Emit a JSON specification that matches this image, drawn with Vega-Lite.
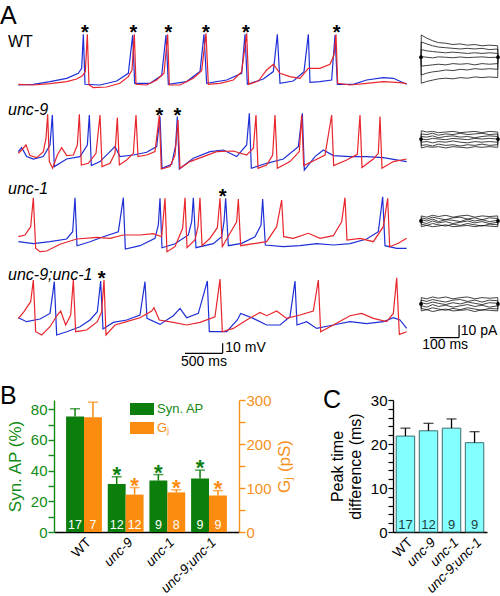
{
"$schema":"https://vega.github.io/schema/vega-lite/v6.json",
"padding":{"top":3,"left":0,"right":0,"bottom":0},
"background":"white",
"config":{"view":{"stroke":null},"font":"Liberation Sans","title":{"font":"Liberation Sans","color":"black"},"text":{"font":"Liberation Sans"},"axis":{"labelFont":"Liberation Sans","titleFont":"Liberation Sans"},"legend":{"labelFont":"Liberation Sans"}},
"datasets":{
"tr":[
{"g":"WT","c":"b","t":[55,100,150,200,235,245,250,255,300,350,385,398,404,450,485,498,505,560,600,612,620,680,725,735,742,790,820,832,840,880,912,925,930,960,995,1005,1012,1060,1100,1150,1180,1220],"v":[-0.7,0,2.7,6,11,16,50,0,-0.7,3.3,11,49.3,1,1,8.7,49.3,0,2.7,12.7,50,1,4.3,11,50,0,5.3,12.7,50,1,3.3,12.7,50,2,2.7,4.3,49.3,0,0,4.3,6.7,6,0]},
{"g":"WT","c":"r","t":[55,100,150,200,230,248,256,262,267,280,320,360,385,396,403,408,440,470,492,503,508,540,580,605,618,625,660,700,725,740,746,775,800,820,840,870,900,925,960,990,1002,1008,1013,1050,1100,1150,1200,1220],"v":[0,-0.7,0.7,2.7,5.3,8.7,12.7,50,-0.7,-3.3,-2.7,1,7.7,14.3,50,0,-0.7,4.3,11,50,-0.7,-0.7,6,13.7,51,0,1,4.3,12.7,51,0,3.3,14.3,20,11,7.7,6,16,16,20,29.3,50,1,-0.7,1,2.7,1.7,0.7]},
{"g":"unc-9","c":"b","t":[55,65,80,100,130,150,157,163,200,240,262,268,274,300,330,345,360,400,440,470,480,486,515,527,532,538,580,630,670,710,740,748,754,800,850,895,907,913,945,970,1000,1050,1100,1150,1220],"v":[6.7,10.7,1.7,-0.7,1.7,13.3,43.3,-8.3,-0.7,1.7,13.3,43.3,-7.3,-3.3,6.7,11.7,1.7,3.3,6,11.7,41.7,-10,-6,13.3,41.7,-10.7,0,6.7,8.3,1.7,13.3,45,-10,-5,-0.7,11.7,45,-11.7,1.7,8.3,2.7,1.7,1.7,0.7,-3.3]},
{"g":"unc-9","c":"r","t":[55,65,78,90,110,130,138,143,148,158,172,185,200,220,232,238,244,265,288,300,306,330,345,352,358,380,400,408,414,440,465,478,484,510,525,534,540,570,610,650,700,740,760,768,774,800,818,825,832,870,898,905,911,940,975,995,1001,1040,1072,1080,1086,1120,1135,1140,1146,1180,1220],"v":[5,8.3,13.3,2.7,0.7,6.7,20,44,-3.3,-10,3.3,10.7,2.7,3.3,13.3,44,-6.7,-5,5,43.3,-8.3,-5,5,40.7,-6.7,-1.7,5,43.3,1.7,3.3,6.7,43.3,-10.7,-8.3,3.3,38.3,-10,-3.3,1.7,6.7,7.3,3.3,10,43.3,-10,-6.7,3.3,43.3,-10,-3.3,6.7,43.3,-7.3,-2.7,3.3,43.3,-7.3,-1.7,4,43.3,-9.3,-0.7,5,41.7,-10,-3.3,-0.7]},
{"g":"unc-1","c":"b","t":[55,100,150,200,218,225,231,270,310,355,370,376,420,465,475,480,486,525,565,575,580,588,640,665,672,677,685,725,765,783,788,796,850,900,950,1000,1050,1100,1135,1148,1155,1190,1220],"v":[-1.7,-3.7,-1.7,1,8.3,42.3,-5.7,-1.7,3.3,8.3,42.3,-9,-5.7,1.7,15,41.7,-7.7,-3.7,5,18.3,42.3,-7.7,-3.7,3.3,18.3,41.7,-5.7,-3.3,3.3,15,41,-5,-6.7,-5.7,-3.7,-5,-3.7,1,8.3,43.3,-5.7,-8.3,-8.3]},
{"g":"unc-1","c":"r","t":[55,75,92,100,107,120,140,180,230,290,330,370,420,460,485,495,501,525,548,555,561,585,594,600,606,630,652,660,667,690,710,715,722,760,800,830,845,851,880,925,960,1000,1025,1035,1041,1080,1120,1150,1163,1169,1195,1220],"v":[3.3,5,13.3,42.3,-8.3,-11.7,-11,-4.3,1,2.7,1.7,5,5,6.3,3.3,41.7,-11.7,-6.7,11.7,42.3,-7.7,0,13.3,42.3,-5.7,1.7,12.3,41.7,-6.7,6.7,18.3,41,-5.7,-3.7,-1.7,13.3,40,3.3,1.7,6.7,1.7,4.3,18.3,42.3,0,1.7,-1.7,13.3,41.7,-6.7,-3.3,1.7]},
{"g":"unc-9;unc-1","c":"b","t":[55,80,120,150,163,170,200,240,270,292,302,309,340,380,420,435,441,480,520,540,560,595,622,628,680,712,722,760,800,840,870,885,891,920,950,1000,1050,1100,1150,1180,1200,1220],"v":[4,0,2.7,8.3,40,-13.3,-10,-5,1.7,10,40.7,-7.3,-0.7,1.7,6.7,40,3.3,-2.7,6,13.3,4,8.3,40.7,-10,-10,1.7,8.3,3.3,-3.3,-3.3,5,40.7,-3.3,0,-6.7,-3.3,0,-2,0,4,1.7,-6.7]},
{"g":"unc-9;unc-1","c":"r","t":[55,72,92,100,107,125,150,172,182,197,212,220,227,260,292,305,312,318,345,380,420,455,462,478,520,560,600,645,660,667,700,740,780,800,830,860,900,940,955,962,1000,1050,1085,1120,1160,1180,1190,1198,1220],"v":[3.3,10,20,41.7,-10,-13.3,-5,6.7,10.7,-3.3,6.7,41.7,-10,-8.3,0,10,41.7,-13.3,-3.3,0,4,10.7,14,1.7,-0.7,-3.3,-0.7,5,42.7,-10,-6.7,1.7,9.3,6,10.7,3.3,6.7,10.7,41.7,-10,-3.3,6,8.3,3.3,0,8.3,44,-12.7,-10]}
],
"ast":[
{"g":"WT","t":255,"v":56.7},{"g":"WT","t":400,"v":56.7},{"g":"WT","t":505,"v":56.7},{"g":"WT","t":618,"v":56.7},{"g":"WT","t":738,"v":56.7},{"g":"WT","t":1010,"v":56.7},
{"g":"unc-9","t":478,"v":47.3},{"g":"unc-9","t":532,"v":47.3},
{"g":"unc-1","t":668,"v":48.3},
{"g":"unc-9;unc-1","t":305,"v":47.3}
],
"lab":[
{"g":"WT","t":24,"v":42.6,"name":"WT"},
{"g":"unc-9","t":24,"v":48.3,"name":"unc-9"},
{"g":"unc-1","t":24,"v":51,"name":"unc-1"},
{"g":"unc-9;unc-1","t":24,"v":46.7,"name":"unc-9;unc-1"}
],
"sb":[{"t":555,"t2":668,"v":-31.6,"v2":-31.6},{"t":668,"t2":668,"v":-31.6,"v2":-21.6}],
"sbt":[{"t":676,"v":-26.6,"s":"10 mV","a":"l"},{"t":612,"v":-40.5,"s":"500 ms","a":"c"}],
"cur":[
{"g":"WT","k":1,"t":[0,1,20,40,60,85,110,135,160,185,210,235,264,265],"i":[0,17.5,15,13,11.5,11,10,10.5,9.5,10,9,9.5,9,0]},
{"g":"WT","k":2,"t":[0,1,20,40,60,85,110,135,160,185,210,235,264,265],"i":[0,12,10.5,9,8,7.5,7,6.5,7,6.5,7,6,6.5,0]},
{"g":"WT","k":3,"t":[0,1,20,40,60,85,110,135,160,185,210,235,264,265],"i":[0,6,5,4.5,4,3.5,4,3.5,3,3.5,3,3.5,3,0]},
{"g":"WT","k":4,"t":[0,1,20,40,60,85,110,135,160,185,210,235,264,265],"i":[0,0.5,0,-0.5,0.3,0,-0.4,0.2,-0.3,0,0.3,-0.2,0,0]},
{"g":"WT","k":5,"t":[0,1,20,40,60,85,110,135,160,185,210,235,264,265],"i":[0,-7,-6.5,-6,-5.5,-6,-5,-5.5,-5,-6,-5,-5.5,-5,0]},
{"g":"WT","k":6,"t":[0,1,20,40,60,85,110,135,160,185,210,235,264,265],"i":[0,-14,-12.5,-11.5,-11,-10,-10.5,-9.5,-10,-9,-9.5,-9,-9.5,0]},
{"g":"WT","k":7,"t":[0,1,20,40,60,85,110,135,160,185,210,235,264,265],"i":[0,-20.5,-19,-18,-17,-16.5,-17,-16,-16.5,-15.5,-16,-15.5,-16,0]},
{"g":"unc-9","k":1,"t":[0,1,20,40,60,85,110,135,160,185,210,235,264,265],"i":[0,6.5,5.5,6,5,5.5,6,5,5.5,6,5,6,5.5,0]},
{"g":"unc-9","k":2,"t":[0,1,20,40,60,85,110,135,160,185,210,235,264,265],"i":[0,4,3.5,4.5,3,4,3.5,4.5,3.5,4,4.5,3.5,4,0]},
{"g":"unc-9","k":3,"t":[0,1,20,40,60,85,110,135,160,185,210,235,264,265],"i":[0,2,1.5,2.5,1,2,2.5,1.5,2,1,2,2.5,2,0]},
{"g":"unc-9","k":4,"t":[0,1,20,40,60,85,110,135,160,185,210,235,264,265],"i":[0,0,-0.5,0.5,0,-0.5,0.5,0,-0.5,0.5,0,0.5,0,0]},
{"g":"unc-9","k":5,"t":[0,1,20,40,60,85,110,135,160,185,210,235,264,265],"i":[0,-2.5,-2,-3,-2,-2.5,-1.5,-2.5,-3,-2,-2.5,-2,-2.5,0]},
{"g":"unc-9","k":6,"t":[0,1,20,40,60,85,110,135,160,185,210,235,264,265],"i":[0,-5,-4.5,-5.5,-4,-5,-4.5,-5.5,-4.5,-5,-4,-5,-4.5,0]},
{"g":"unc-9","k":7,"t":[0,1,20,40,60,85,110,135,160,185,210,235,264,265],"i":[0,-7,-6,-6.5,-6,-7,-6,-6.5,-7,-6,-6.5,-6,-6.5,0]},
{"g":"unc-1","k":1,"t":[0,1,20,40,60,85,110,135,160,185,210,235,264,265],"i":[0,4,3,4.5,3.5,4.5,3,4,4.5,3,4,3.5,4,0]},
{"g":"unc-1","k":2,"t":[0,1,20,40,60,85,110,135,160,185,210,235,264,265],"i":[0,2.5,1.5,3,2,1,2.5,3,1.5,2.5,1,2.5,2,0]},
{"g":"unc-1","k":3,"t":[0,1,20,40,60,85,110,135,160,185,210,235,264,265],"i":[0,1,0,1.5,-0.5,1,0.5,-0.5,1.5,0,1,-0.5,0.5,0]},
{"g":"unc-1","k":4,"t":[0,1,20,40,60,85,110,135,160,185,210,235,264,265],"i":[0,-1,-2,0,-1.5,-0.5,-2,-1,0,-1.5,-0.5,-2,-1,0]},
{"g":"unc-1","k":5,"t":[0,1,20,40,60,85,110,135,160,185,210,235,264,265],"i":[0,-2.5,-3.5,-2,-3,-4,-2.5,-3.5,-2,-3,-4,-2.5,-3,0]},
{"g":"unc-1","k":6,"t":[0,1,20,40,60,85,110,135,160,185,210,235,264,265],"i":[0,-4.5,-3.5,-4.5,-4,-3,-4.5,-4,-3.5,-4.5,-3.5,-4,-4.5,0]},
{"g":"unc-9;unc-1","k":1,"t":[0,1,20,40,60,85,110,135,160,185,210,235,264,265],"i":[0,5,4,5.5,4.5,5.5,4,5,5.5,4,5,4.5,5,0]},
{"g":"unc-9;unc-1","k":2,"t":[0,1,20,40,60,85,110,135,160,185,210,235,264,265],"i":[0,3,2,3.5,2.5,1.5,3,3.5,2,3,1.5,3,2.5,0]},
{"g":"unc-9;unc-1","k":3,"t":[0,1,20,40,60,85,110,135,160,185,210,235,264,265],"i":[0,1,0,1.5,0.5,-0.5,1,0,1.5,0.5,-0.5,1,0.5,0]},
{"g":"unc-9;unc-1","k":4,"t":[0,1,20,40,60,85,110,135,160,185,210,235,264,265],"i":[0,-1.5,-2.5,-0.5,-2,-1,-2.5,-1.5,-0.5,-2,-1,-2.5,-1.5,0]},
{"g":"unc-9;unc-1","k":5,"t":[0,1,20,40,60,85,110,135,160,185,210,235,264,265],"i":[0,-3.5,-4.5,-3,-4,-5,-3.5,-4.5,-3,-4,-5,-3.5,-4,0]},
{"g":"unc-9;unc-1","k":6,"t":[0,1,20,40,60,85,110,135,160,185,210,235,264,265],"i":[0,-5.5,-4.5,-6,-5,-4,-5.5,-5,-4.5,-6,-4.5,-5,-5.5,0]}
],
"csb":[{"t":31,"t2":131,"i":-26.5,"i2":-26.5},{"t":131,"t2":131,"i":-26.5,"i2":-16.5}],
"csbt":[{"t":137,"i":-21.3,"s":"10 pA","a":"l"},{"t":83,"i":-32.5,"s":"100 ms","a":"c"}],
"bar":[
{"g":"WT","s":"Syn. AP","v":75.2,"e":80.3,"n":"17","st":""},
{"g":"unc-9","s":"Syn. AP","v":31.3,"e":36,"n":"12","st":"*"},
{"g":"unc-1","s":"Syn. AP","v":33.5,"e":37.4,"n":"9","st":"*"},
{"g":"unc-9;unc-1","s":"Syn. AP","v":34.8,"e":40.3,"n":"9","st":"*"},
{"g":"WT","s":"Gⱼ","v":261,"e":295,"n":"7","st":""},
{"g":"unc-9","s":"Gⱼ","v":85,"e":101,"n":"12","st":"*"},
{"g":"unc-1","s":"Gⱼ","v":90,"e":96,"n":"8","st":"*"},
{"g":"unc-9;unc-1","s":"Gⱼ","v":83,"e":94,"n":"9","st":"*"}
],
"pk":[
{"g":"WT","v":21.8,"e":23.6,"n":"17"},
{"g":"unc-9","v":23.0,"e":24.7,"n":"12"},
{"g":"unc-1","v":23.6,"e":25.7,"n":"9"},
{"g":"unc-9;unc-1","v":20.3,"e":22.8,"n":"9"}
]
},
"vconcat":[
{"vconcat":[
{"hconcat":[
{"width":353,"height":67,
"title":{"text":"A","anchor":"start","frame":"group","fontSize":25,"fontWeight":"normal","baseline":"alphabetic","offset":-26,"dx":-54},
"encoding":{"x":{"field":"t","type":"quantitative","scale":{"domain":[162,1221],"nice":false,"zero":false},"axis":null},"y":{"field":"v","type":"quantitative","scale":{"domain":[-10.7,56.3],"nice":false,"zero":false},"axis":null}},
"layer":[
{"data":{"name":"tr"},"transform":[{"filter":"datum.g==='WT' && datum.c==='b'"},{"flatten":["t","v"]}],"mark":{"type":"line","color":"#1f2fd6","strokeWidth":1.2},"encoding":{}},
{"data":{"name":"tr"},"transform":[{"filter":"datum.g==='WT' && datum.c==='r'"},{"flatten":["t","v"]}],"mark":{"type":"line","color":"#e8262c","strokeWidth":1.2},"encoding":{}},
{"data":{"name":"ast"},"transform":[{"filter":"datum.g==='WT'"}],"mark":{"type":"text","text":"*","fontSize":20,"fontWeight":"bold","baseline":"alphabetic","dy":11},"encoding":{}},
{"data":{"name":"lab"},"transform":[{"filter":"datum.g==='WT'"}],"mark":{"type":"text","align":"left","baseline":"middle","fontSize":16},"encoding":{"text":{"field":"name"}}}
]},
{"width":77,"height":67,
"encoding":{"x":{"field":"t","type":"quantitative","scale":{"domain":[0,265],"nice":false,"zero":false},"axis":null},"y":{"field":"i","type":"quantitative","scale":{"domain":[-29.7,23],"nice":false,"zero":false},"axis":null}},
"layer":[
{"data":{"name":"cur"},"transform":[{"filter":"datum.g==='WT'"},{"flatten":["t","i"]}],"mark":{"type":"line","color":"#111111","strokeWidth":0.8},"encoding":{"detail":{"field":"k","type":"nominal"}}},
{"data":{"name":"cur"},"transform":[{"filter":"datum.g==='WT' && datum.k===1"},{"flatten":["t","i"]},{"filter":"datum.t===0 || datum.t===265"}],"mark":{"type":"point","filled":true,"color":"black","size":14,"opacity":1},"encoding":{}}
]}
],"spacing":9,"resolve":{"scale":{"x":"independent","y":"independent"}}},
{"hconcat":[
{"width":353,"height":75,
"encoding":{"x":{"field":"t","type":"quantitative","scale":{"domain":[162,1221],"nice":false,"zero":false},"axis":null},"y":{"field":"v","type":"quantitative","scale":{"domain":[-16.7,58.3],"nice":false,"zero":false},"axis":null}},
"layer":[
{"data":{"name":"tr"},"transform":[{"filter":"datum.g==='unc-9' && datum.c==='b'"},{"flatten":["t","v"]}],"mark":{"type":"line","color":"#1f2fd6","strokeWidth":1.2},"encoding":{}},
{"data":{"name":"tr"},"transform":[{"filter":"datum.g==='unc-9' && datum.c==='r'"},{"flatten":["t","v"]}],"mark":{"type":"line","color":"#e8262c","strokeWidth":1.2},"encoding":{}},
{"data":{"name":"ast"},"transform":[{"filter":"datum.g==='unc-9'"}],"mark":{"type":"text","text":"*","fontSize":20,"fontWeight":"bold","baseline":"alphabetic","dy":11},"encoding":{}},
{"data":{"name":"lab"},"transform":[{"filter":"datum.g==='unc-9'"}],"mark":{"type":"text","align":"left","baseline":"middle","fontSize":16,"fontStyle":"italic"},"encoding":{"text":{"field":"name"}}}
]},
{"width":77,"height":75,
"encoding":{"x":{"field":"t","type":"quantitative","scale":{"domain":[0,265],"nice":false,"zero":false},"axis":null},"y":{"field":"i","type":"quantitative","scale":{"domain":[-28.3,30.7],"nice":false,"zero":false},"axis":null}},
"layer":[
{"data":{"name":"cur"},"transform":[{"filter":"datum.g==='unc-9'"},{"flatten":["t","i"]}],"mark":{"type":"line","color":"#111111","strokeWidth":0.8},"encoding":{"detail":{"field":"k","type":"nominal"}}},
{"data":{"name":"cur"},"transform":[{"filter":"datum.g==='unc-9' && datum.k===1"},{"flatten":["t","i"]},{"filter":"datum.t===0 || datum.t===265"}],"mark":{"type":"point","filled":true,"color":"black","size":14,"opacity":1},"encoding":{}}
]}
],"spacing":9,"resolve":{"scale":{"x":"independent","y":"independent"}}},
{"hconcat":[
{"width":353,"height":75,
"encoding":{"x":{"field":"t","type":"quantitative","scale":{"domain":[162,1221],"nice":false,"zero":false},"axis":null},"y":{"field":"v","type":"quantitative","scale":{"domain":[-15,60],"nice":false,"zero":false},"axis":null}},
"layer":[
{"data":{"name":"tr"},"transform":[{"filter":"datum.g==='unc-1' && datum.c==='b'"},{"flatten":["t","v"]}],"mark":{"type":"line","color":"#1f2fd6","strokeWidth":1.2},"encoding":{}},
{"data":{"name":"tr"},"transform":[{"filter":"datum.g==='unc-1' && datum.c==='r'"},{"flatten":["t","v"]}],"mark":{"type":"line","color":"#e8262c","strokeWidth":1.2},"encoding":{}},
{"data":{"name":"ast"},"transform":[{"filter":"datum.g==='unc-1'"}],"mark":{"type":"text","text":"*","fontSize":20,"fontWeight":"bold","baseline":"alphabetic","dy":11},"encoding":{}},
{"data":{"name":"lab"},"transform":[{"filter":"datum.g==='unc-1'"}],"mark":{"type":"text","align":"left","baseline":"middle","fontSize":16,"fontStyle":"italic"},"encoding":{"text":{"field":"name"}}}
]},
{"width":77,"height":75,
"encoding":{"x":{"field":"t","type":"quantitative","scale":{"domain":[0,265],"nice":false,"zero":false},"axis":null},"y":{"field":"i","type":"quantitative","scale":{"domain":[-26.8,32.3],"nice":false,"zero":false},"axis":null}},
"layer":[
{"data":{"name":"cur"},"transform":[{"filter":"datum.g==='unc-1'"},{"flatten":["t","i"]}],"mark":{"type":"line","color":"#111111","strokeWidth":0.8},"encoding":{"detail":{"field":"k","type":"nominal"}}},
{"data":{"name":"cur"},"transform":[{"filter":"datum.g==='unc-1' && datum.k===1"},{"flatten":["t","i"]},{"filter":"datum.t===0 || datum.t===265"}],"mark":{"type":"point","filled":true,"color":"black","size":14,"opacity":1},"encoding":{}}
]}
],"spacing":9,"resolve":{"scale":{"x":"independent","y":"independent"}}},
{"hconcat":[
{"width":353,"height":110,
"encoding":{"x":{"field":"t","type":"quantitative","scale":{"domain":[162,1221],"nice":false,"zero":false},"axis":null},"y":{"field":"v","type":"quantitative","scale":{"domain":[-48.3,61.7],"nice":false,"zero":false},"axis":null}},
"layer":[
{"data":{"name":"tr"},"transform":[{"filter":"datum.g==='unc-9;unc-1' && datum.c==='b'"},{"flatten":["t","v"]}],"mark":{"type":"line","color":"#1f2fd6","strokeWidth":1.2},"encoding":{}},
{"data":{"name":"tr"},"transform":[{"filter":"datum.g==='unc-9;unc-1' && datum.c==='r'"},{"flatten":["t","v"]}],"mark":{"type":"line","color":"#e8262c","strokeWidth":1.2},"encoding":{}},
{"data":{"name":"ast"},"transform":[{"filter":"datum.g==='unc-9;unc-1'"}],"mark":{"type":"text","text":"*","fontSize":20,"fontWeight":"bold","baseline":"alphabetic","dy":11},"encoding":{}},
{"data":{"name":"lab"},"transform":[{"filter":"datum.g==='unc-9;unc-1'"}],"mark":{"type":"text","align":"left","baseline":"middle","fontSize":16,"fontStyle":"italic"},"encoding":{"text":{"field":"name"}}},
{"data":{"name":"sb"},"mark":{"type":"rule","color":"black","strokeWidth":1.2},"encoding":{"x2":{"field":"t2"},"y2":{"field":"v2"}}},
{"data":{"name":"sbt"},"transform":[{"filter":"datum.a==='l'"}],"mark":{"type":"text","align":"left","baseline":"middle","fontSize":14},"encoding":{"text":{"field":"s"}}},
{"data":{"name":"sbt"},"transform":[{"filter":"datum.a==='c'"}],"mark":{"type":"text","align":"center","baseline":"middle","fontSize":14},"encoding":{"text":{"field":"s"}}}
]},
{"width":77,"height":110,
"encoding":{"x":{"field":"t","type":"quantitative","scale":{"domain":[0,265],"nice":false,"zero":false},"axis":null},"y":{"field":"i","type":"quantitative","scale":{"domain":[-52,34.6],"nice":false,"zero":false},"axis":null}},
"layer":[
{"data":{"name":"cur"},"transform":[{"filter":"datum.g==='unc-9;unc-1'"},{"flatten":["t","i"]}],"mark":{"type":"line","color":"#111111","strokeWidth":0.8},"encoding":{"detail":{"field":"k","type":"nominal"}}},
{"data":{"name":"cur"},"transform":[{"filter":"datum.g==='unc-9;unc-1' && datum.k===1"},{"flatten":["t","i"]},{"filter":"datum.t===0 || datum.t===265"}],"mark":{"type":"point","filled":true,"color":"black","size":14,"opacity":1},"encoding":{}},
{"data":{"name":"csb"},"mark":{"type":"rule","color":"black","strokeWidth":1.2},"encoding":{"x2":{"field":"t2"},"y2":{"field":"i2"}}},
{"data":{"name":"csbt"},"transform":[{"filter":"datum.a==='l'"}],"mark":{"type":"text","align":"left","baseline":"middle","fontSize":14},"encoding":{"text":{"field":"s"}}},
{"data":{"name":"csbt"},"transform":[{"filter":"datum.a==='c'"}],"mark":{"type":"text","align":"center","baseline":"middle","fontSize":14},"encoding":{"text":{"field":"s"}}}
]}
],"spacing":9,"resolve":{"scale":{"x":"independent","y":"independent"}}}
],"spacing":5,"resolve":{"scale":{"x":"independent","y":"independent"}}},
{"hconcat":[
{"width":185,"height":132,
"title":{"text":"B","anchor":"start","frame":"group","fontSize":25,"fontWeight":"normal","baseline":"alphabetic","offset":-36,"dx":-54},
"data":{"name":"bar"},
"encoding":{
"x":{"field":"g","type":"nominal","sort":["WT","unc-9","unc-1","unc-9;unc-1"],"scale":{"paddingInner":0.14,"paddingOuter":0.29},"axis":{"title":null,"labelAngle":-45,"labelFontSize":13.5,"labelColor":"black","labelFontStyle":{"condition":{"test":"datum.value==='WT'","value":"normal"},"value":"italic"},"ticks":false,"domainColor":"black","domainWidth":1.4,"labelPadding":3}},
"xOffset":{"field":"s","type":"nominal","sort":["Syn. AP","Gⱼ"],"scale":{"domain":["Syn. AP","Gⱼ"],"paddingInner":0,"paddingOuter":0}}},
"layer":[
{"transform":[{"filter":"datum.s==='Syn. AP'"}],
"encoding":{"y":{"field":"v","type":"quantitative","scale":{"domain":[0,86],"nice":false},"axis":{"orient":"left","title":"Syn. AP (%)","values":[0,10,20,30,40,50,60,70,80],"labelExpr":"datum.value % 20 === 0 ? datum.label : ''","tickSize":6,"grid":false,"domainColor":"#138a13","tickColor":"#138a13","labelColor":"#138a13","titleColor":"#138a13","labelFontSize":15,"titleFontSize":17,"titleFontWeight":"normal","domainWidth":1.4,"tickWidth":1.4,"labelPadding":1,"titlePadding":6}}},
"layer":[
{"mark":{"type":"bar"},"encoding":{"color":{"field":"s","type":"nominal","scale":{"domain":["Syn. AP","Gⱼ"],"range":["#0c7e0c","#fb8c10"]},"legend":{"title":null,"orient":"none","legendX":76,"legendY":-3,"symbolType":"M-1,-0.5H1V0.5H-1Z","symbolSize":576,"symbolStrokeWidth":0,"symbolOpacity":1,"labelFontSize":13,"labelOffset":3,"rowPadding":-16,"encode":{"labels":{"update":{"fill":{"signal":"datum.value==='Syn. AP' ? '#138a13' : '#f58a16'"}}}}}}}},
{"mark":{"type":"rule","color":"#0c7e0c","strokeWidth":1.5},"encoding":{"y2":{"field":"e"}}},
{"mark":{"type":"tick","orient":"horizontal","size":10,"thickness":1.5,"color":"#0c7e0c"},"encoding":{"y":{"field":"e","type":"quantitative","scale":{"domain":[0,86],"nice":false},"axis":{"orient":"left","title":"Syn. AP (%)","values":[0,10,20,30,40,50,60,70,80],"labelExpr":"datum.value % 20 === 0 ? datum.label : ''","tickSize":6,"grid":false,"domainColor":"#138a13","tickColor":"#138a13","labelColor":"#138a13","titleColor":"#138a13","labelFontSize":15,"titleFontSize":17,"titleFontWeight":"normal","domainWidth":1.4,"tickWidth":1.4,"labelPadding":1,"titlePadding":6}}}},
{"transform":[{"filter":"datum.st !== ''"}],"mark":{"type":"text","fontSize":22,"fontWeight":"bold","baseline":"alphabetic","dy":5,"color":"#0c7e0c"},"encoding":{"y":{"field":"e","type":"quantitative","scale":{"domain":[0,86],"nice":false},"axis":{"orient":"left","title":"Syn. AP (%)","values":[0,10,20,30,40,50,60,70,80],"labelExpr":"datum.value % 20 === 0 ? datum.label : ''","tickSize":6,"grid":false,"domainColor":"#138a13","tickColor":"#138a13","labelColor":"#138a13","titleColor":"#138a13","labelFontSize":15,"titleFontSize":17,"titleFontWeight":"normal","domainWidth":1.4,"tickWidth":1.4,"labelPadding":1,"titlePadding":6}},"text":{"field":"st"}}},
{"mark":{"type":"text","fontSize":12.5,"baseline":"alphabetic","dy":-3,"color":"white"},"encoding":{"y":{"datum":0,"type":"quantitative","scale":{"domain":[0,86],"nice":false},"axis":{"orient":"left","title":"Syn. AP (%)","values":[0,10,20,30,40,50,60,70,80],"labelExpr":"datum.value % 20 === 0 ? datum.label : ''","tickSize":6,"grid":false,"domainColor":"#138a13","tickColor":"#138a13","labelColor":"#138a13","titleColor":"#138a13","labelFontSize":15,"titleFontSize":17,"titleFontWeight":"normal","domainWidth":1.4,"tickWidth":1.4,"labelPadding":1,"titlePadding":6}},"text":{"field":"n"}}}
]},
{"transform":[{"filter":"datum.s!=='Syn. AP'"}],
"encoding":{"y":{"field":"v","type":"quantitative","scale":{"domain":[0,300],"nice":false},"axis":{"orient":"right","title":"Gⱼ (pS)","titleAngle":270,"titleBaseline":"top","values":[0,50,100,150,200,250,300],"labelExpr":"datum.value % 100 === 0 ? datum.label : ''","tickSize":6,"grid":false,"domainColor":"#f7901c","tickColor":"#f7901c","labelColor":"#f7901c","titleColor":"#f7901c","labelFontSize":15,"titleFontSize":17,"titleFontWeight":"normal","domainWidth":1.4,"tickWidth":1.4,"labelPadding":1,"titlePadding":5}}},
"layer":[
{"mark":{"type":"bar"},"encoding":{"color":{"field":"s","type":"nominal","scale":{"domain":["Syn. AP","Gⱼ"],"range":["#0c7e0c","#fb8c10"]},"legend":{"title":null,"orient":"none","legendX":76,"legendY":-3,"symbolType":"M-1,-0.5H1V0.5H-1Z","symbolSize":576,"symbolStrokeWidth":0,"symbolOpacity":1,"labelFontSize":13,"labelOffset":3,"rowPadding":-16,"encode":{"labels":{"update":{"fill":{"signal":"datum.value==='Syn. AP' ? '#138a13' : '#f58a16'"}}}}}}}},
{"mark":{"type":"rule","color":"#fb8c10","strokeWidth":1.5},"encoding":{"y2":{"field":"e"}}},
{"mark":{"type":"tick","orient":"horizontal","size":10,"thickness":1.5,"color":"#fb8c10"},"encoding":{"y":{"field":"e","type":"quantitative","scale":{"domain":[0,300],"nice":false},"axis":{"orient":"right","title":"Gⱼ (pS)","titleAngle":270,"titleBaseline":"top","values":[0,50,100,150,200,250,300],"labelExpr":"datum.value % 100 === 0 ? datum.label : ''","tickSize":6,"grid":false,"domainColor":"#f7901c","tickColor":"#f7901c","labelColor":"#f7901c","titleColor":"#f7901c","labelFontSize":15,"titleFontSize":17,"titleFontWeight":"normal","domainWidth":1.4,"tickWidth":1.4,"labelPadding":1,"titlePadding":5}}}},
{"transform":[{"filter":"datum.st !== ''"}],"mark":{"type":"text","fontSize":22,"fontWeight":"bold","baseline":"alphabetic","dy":5,"color":"#fb8c10"},"encoding":{"y":{"field":"e","type":"quantitative","scale":{"domain":[0,300],"nice":false},"axis":{"orient":"right","title":"Gⱼ (pS)","titleAngle":270,"titleBaseline":"top","values":[0,50,100,150,200,250,300],"labelExpr":"datum.value % 100 === 0 ? datum.label : ''","tickSize":6,"grid":false,"domainColor":"#f7901c","tickColor":"#f7901c","labelColor":"#f7901c","titleColor":"#f7901c","labelFontSize":15,"titleFontSize":17,"titleFontWeight":"normal","domainWidth":1.4,"tickWidth":1.4,"labelPadding":1,"titlePadding":5}},"text":{"field":"st"}}},
{"mark":{"type":"text","fontSize":12.5,"baseline":"alphabetic","dy":-3,"color":"white"},"encoding":{"y":{"datum":0,"type":"quantitative","scale":{"domain":[0,300],"nice":false},"axis":{"orient":"right","title":"Gⱼ (pS)","titleAngle":270,"titleBaseline":"top","values":[0,50,100,150,200,250,300],"labelExpr":"datum.value % 100 === 0 ? datum.label : ''","tickSize":6,"grid":false,"domainColor":"#f7901c","tickColor":"#f7901c","labelColor":"#f7901c","titleColor":"#f7901c","labelFontSize":15,"titleFontSize":17,"titleFontWeight":"normal","domainWidth":1.4,"tickWidth":1.4,"labelPadding":1,"titlePadding":5}},"text":{"field":"n"}}}
]}
],
"resolve":{"scale":{"y":"independent"},"axis":{"y":"independent"}}},
{"width":94,"height":132,
"title":{"text":"C","anchor":"start","frame":"group","fontSize":25,"fontWeight":"normal","baseline":"alphabetic","offset":-40,"dx":-70},
"data":{"name":"pk"},
"encoding":{"x":{"field":"g","type":"nominal","sort":["WT","unc-9","unc-1","unc-9;unc-1"],"scale":{"paddingInner":0.2,"paddingOuter":0.14},"axis":{"title":null,"labelAngle":-45,"labelFontSize":13.5,"labelColor":"black","labelFontStyle":{"condition":{"test":"datum.value==='WT'","value":"normal"},"value":"italic"},"ticks":false,"domainColor":"black","domainWidth":1.3,"labelPadding":3}},
"y":{"field":"v","type":"quantitative","scale":{"domain":[0,30],"nice":false},"axis":{"title":["Peak time","difference (ms)"],"values":[0,2,4,6,8,10,12,14,16,18,20,22,24,26,28,30],"labelExpr":"datum.value % 10 === 0 ? datum.label : ''","tickSize":5,"grid":false,"labelFontSize":15,"titleFontSize":16,"titleFontWeight":"normal","domainColor":"black","tickColor":"black","labelColor":"black","titleColor":"black","domainWidth":1.3,"tickWidth":1.2,"labelPadding":1,"titlePadding":7,"titleLineHeight":18}}},
"layer":[
{"mark":{"type":"bar","fill":"#84ffff","stroke":"#3c6e6e","strokeWidth":1}},
{"mark":{"type":"rule","color":"black","strokeWidth":1.3},"encoding":{"y2":{"field":"e"}}},
{"mark":{"type":"tick","orient":"horizontal","size":10,"thickness":1.3,"color":"black"},"encoding":{"y":{"field":"e","type":"quantitative","scale":{"domain":[0,30],"nice":false},"axis":{"title":["Peak time","difference (ms)"],"values":[0,2,4,6,8,10,12,14,16,18,20,22,24,26,28,30],"labelExpr":"datum.value % 10 === 0 ? datum.label : ''","tickSize":5,"grid":false,"labelFontSize":15,"titleFontSize":16,"titleFontWeight":"normal","domainColor":"black","tickColor":"black","labelColor":"black","titleColor":"black","domainWidth":1.3,"tickWidth":1.2,"labelPadding":1,"titlePadding":7,"titleLineHeight":18}}}},
{"mark":{"type":"text","fontSize":13,"baseline":"alphabetic","dy":-3,"color":"#1e3c3c"},"encoding":{"y":{"datum":0,"type":"quantitative","scale":{"domain":[0,30],"nice":false},"axis":{"title":["Peak time","difference (ms)"],"values":[0,2,4,6,8,10,12,14,16,18,20,22,24,26,28,30],"labelExpr":"datum.value % 10 === 0 ? datum.label : ''","tickSize":5,"grid":false,"labelFontSize":15,"titleFontSize":16,"titleFontWeight":"normal","domainColor":"black","tickColor":"black","labelColor":"black","titleColor":"black","domainWidth":1.3,"tickWidth":1.2,"labelPadding":1,"titlePadding":7,"titleLineHeight":18}},"text":{"field":"n"}}}
]}
],"spacing":30,"resolve":{"scale":{"x":"independent","y":"independent","color":"independent"}}}
],
"spacing":14,
"resolve":{"scale":{"x":"independent","y":"independent","color":"independent"}}
}
